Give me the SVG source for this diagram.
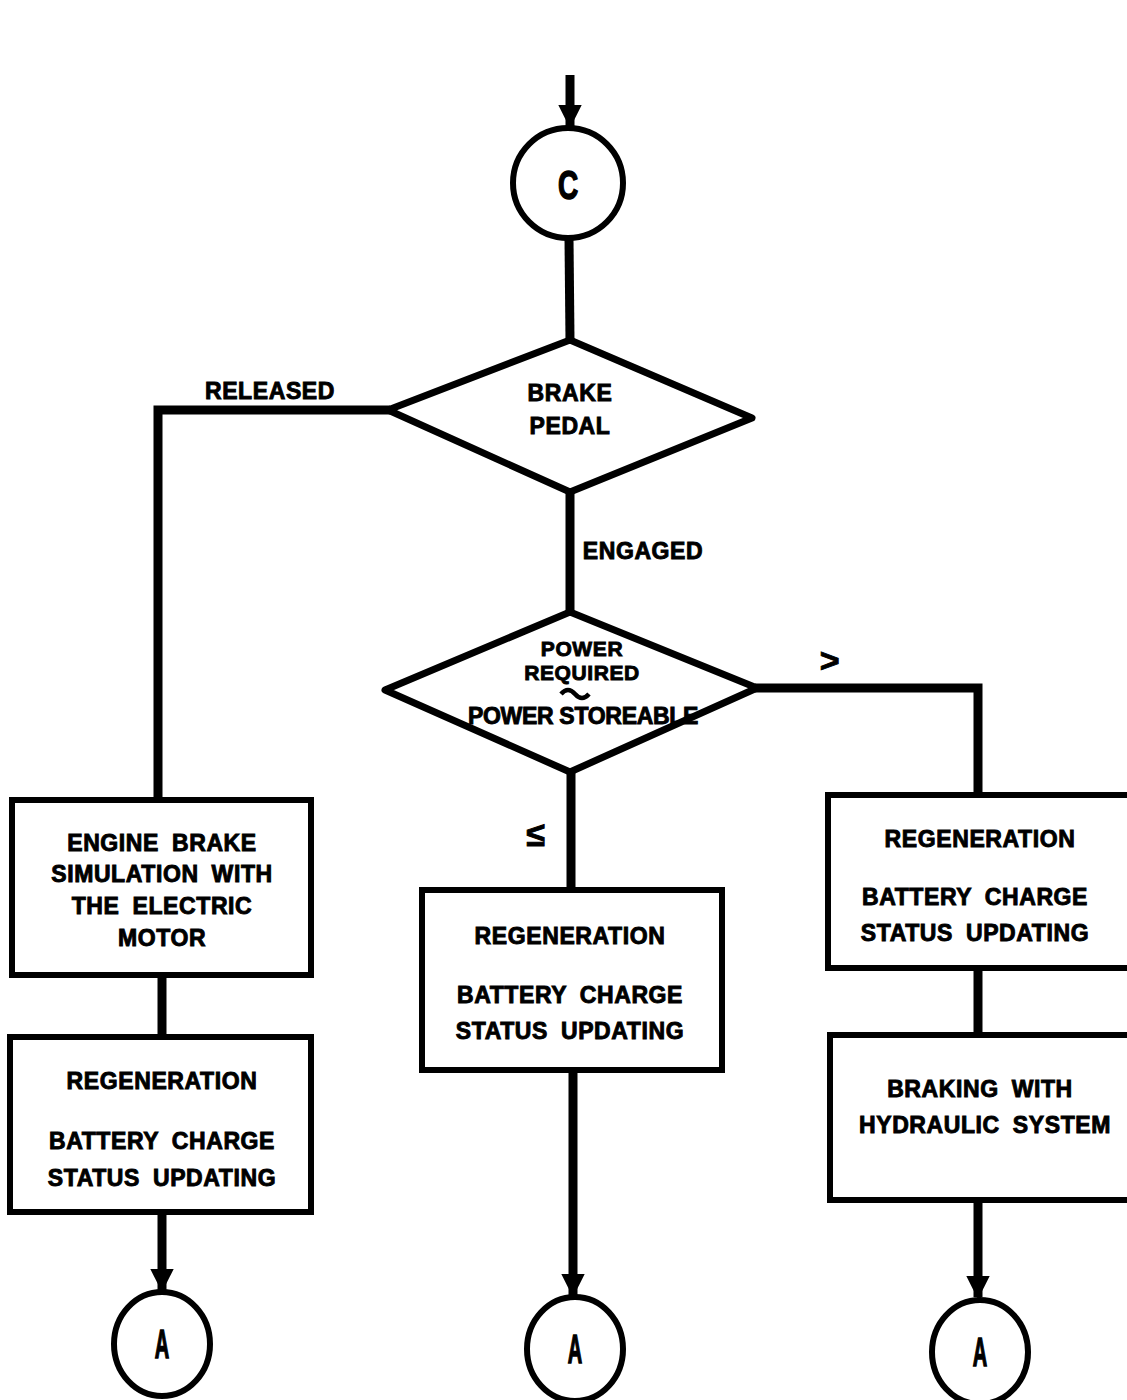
<svg xmlns="http://www.w3.org/2000/svg" width="1127" height="1400" viewBox="0 0 1127 1400">
<style>
.ln{fill:none;stroke:#000;stroke-width:9;stroke-linejoin:miter}
.bx{fill:#fff;stroke:#000;stroke-width:6}
.dm{fill:#fff;stroke:#000;stroke-width:7;stroke-linejoin:round}
.cr{fill:#fff;stroke:#000;stroke-width:6}
.t{font-family:"Liberation Sans",Arial,sans-serif;font-weight:bold;font-size:23px;fill:#000;stroke:#000;stroke-width:0.9;text-anchor:middle;letter-spacing:0.6px}
.big{font-family:"Liberation Sans",Arial,sans-serif;font-weight:bold;font-size:40px;fill:#000;stroke:#000;stroke-width:1.5;text-anchor:middle}
</style>
<defs>
<marker id="ah" viewBox="0 0 10 10" refX="9" refY="5" markerWidth="3" markerHeight="2.6" orient="auto" markerUnits="strokeWidth">
<path d="M0,0 L10,5 L0,10 z" fill="#000"/>
</marker>
</defs>
<rect width="1127" height="1400" fill="#fff"/>
<g id="connectors">
<line class="ln" x1="570" y1="75" x2="570" y2="126" marker-end="url(#ah)"/>
<line class="ln" x1="569" y1="239" x2="570" y2="340"/>
<polyline class="ln" points="390,410 158,410 158,800"/>
<line class="ln" x1="570" y1="492" x2="570" y2="612"/>
<polyline class="ln" points="755,688 978,688 978,795"/>
<line class="ln" x1="571" y1="772" x2="571" y2="890"/>
<line class="ln" x1="162" y1="975" x2="162" y2="1037"/>
<line class="ln" x1="162" y1="1212" x2="162" y2="1290" marker-end="url(#ah)"/>
<line class="ln" x1="573" y1="1070" x2="573" y2="1295" marker-end="url(#ah)"/>
<line class="ln" x1="978" y1="968" x2="978" y2="1035"/>
<line class="ln" x1="978" y1="1200" x2="978" y2="1297" marker-end="url(#ah)"/>
</g>
<g id="labels">
<text class="t" x="270" y="399">RELEASED</text>
<text class="t" x="643" y="559">ENGAGED</text>
<text class="t" x="830" y="672" style="font-size:34px">&gt;</text>
<text class="t" x="536" y="846" style="font-size:34px">≤</text>
</g>
<g id="node-C">
<circle class="cr" cx="568" cy="183" r="55"/>
<text class="big" x="568" y="199" transform="translate(568 0) scale(0.7 1) translate(-568 0)">C</text>
</g>
<g id="node-brake-pedal">
<polygon class="dm" points="570,340 752,418 570,492 388,410"/>
<text class="t" x="570" y="401">BRAKE</text>
<text class="t" x="570" y="434">PEDAL</text>
</g>
<g id="node-power">
<polygon class="dm" points="570,612 757,688 570,772 385,690"/>
<text class="t" x="582" y="656" style="font-size:21px">POWER</text>
<text class="t" x="582" y="680" style="font-size:21px">REQUIRED</text>
<path d="M561,694 q7,-8 14,0 t14,0" fill="none" stroke="#000" stroke-width="4.5"/>
<text class="t" x="583" y="724" style="letter-spacing:-0.3px">POWER STOREABLE</text>
</g>
<g id="node-engine-brake">
<rect class="bx" x="12" y="800" width="299" height="175"/>
<text class="t" x="162" y="851" style="word-spacing:6px">ENGINE BRAKE</text>
<text class="t" x="162" y="882" style="word-spacing:6px">SIMULATION WITH</text>
<text class="t" x="162" y="914" style="word-spacing:6px">THE ELECTRIC</text>
<text class="t" x="162" y="946">MOTOR</text>
</g>
<g id="node-regen-left">
<rect class="bx" x="10" y="1037" width="301" height="175"/>
<text class="t" x="162" y="1089">REGENERATION</text>
<text class="t" x="162" y="1149" style="word-spacing:6px">BATTERY CHARGE</text>
<text class="t" x="162" y="1186" style="word-spacing:6px">STATUS UPDATING</text>
</g>
<g id="node-regen-mid">
<rect class="bx" x="422" y="890" width="300" height="180"/>
<text class="t" x="570" y="944">REGENERATION</text>
<text class="t" x="570" y="1003" style="word-spacing:6px">BATTERY CHARGE</text>
<text class="t" x="570" y="1039" style="word-spacing:6px">STATUS UPDATING</text>
</g>
<g id="node-regen-right">
<rect class="bx" x="828" y="795" width="305" height="173"/>
<text class="t" x="980" y="847">REGENERATION</text>
<text class="t" x="975" y="905" style="word-spacing:6px">BATTERY CHARGE</text>
<text class="t" x="975" y="941" style="word-spacing:6px">STATUS UPDATING</text>
</g>
<g id="node-hydraulic">
<rect class="bx" x="830" y="1035" width="303" height="165"/>
<text class="t" x="980" y="1097" style="word-spacing:6px">BRAKING WITH</text>
<text class="t" x="985" y="1133" style="word-spacing:6px">HYDRAULIC SYSTEM</text>
</g>
<g id="node-A-left">
<ellipse class="cr" cx="162" cy="1344" rx="48" ry="52"/>
<text class="big" x="162" y="1358" transform="translate(162 0) scale(0.5 1) translate(-162 0)">A</text>
</g>
<g id="node-A-mid">
<ellipse class="cr" cx="575" cy="1349" rx="48" ry="52"/>
<text class="big" x="575" y="1363" transform="translate(575 0) scale(0.5 1) translate(-575 0)">A</text>
</g>
<g id="node-A-right">
<ellipse class="cr" cx="980" cy="1352" rx="48" ry="52"/>
<text class="big" x="980" y="1366" transform="translate(980 0) scale(0.5 1) translate(-980 0)">A</text>
</g>
</svg>
